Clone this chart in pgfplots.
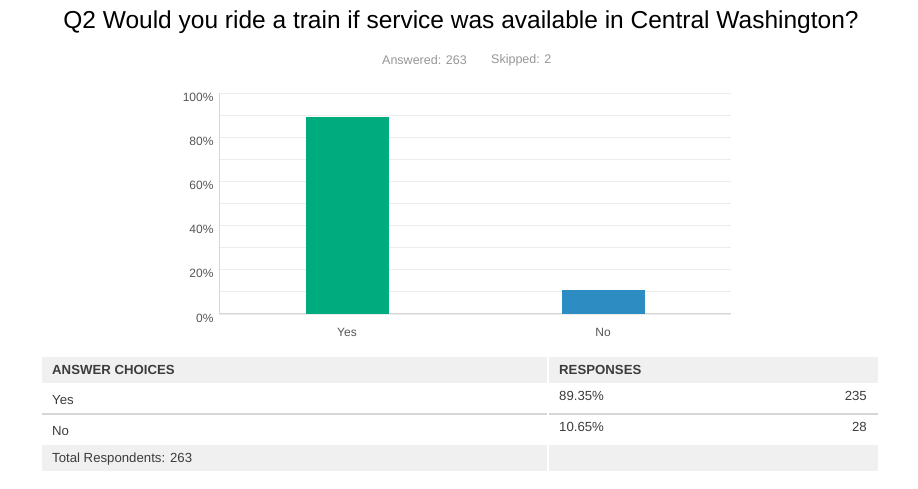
\documentclass[border=0pt]{standalone}
\usepackage{pgfplots}
\pgfplotsset{compat=1.18}
\usepackage{fontspec}
\setmainfont{Liberation Sans}
\definecolor{yesgreen}{RGB}{0,172,126}
\definecolor{noblue}{RGB}{45,141,194}
\definecolor{gridgrey}{RGB}{236,236,236}
\definecolor{axisgrey}{RGB}{214,214,214}
\definecolor{ticktext}{RGB}{85,85,85}
\definecolor{subgrey}{RGB}{150,150,150}
\definecolor{tablebg}{RGB}{240,240,240}
\definecolor{tabletext}{RGB}{60,60,60}

\begin{document}
\begin{tikzpicture}[x=1pt,y=1pt]
\useasboundingbox (0,0) rectangle (918,489);

% title and subtitle
\node[font=\fontsize{24.5}{28}\selectfont, text=black] at (461,467) {Q2 Would you ride a train if service was available in Central Washington?};
\node[font=\fontsize{12.5}{15}\selectfont, text=subgrey, anchor=west, inner sep=0] at (382,429) {Answered: 263};
\node[font=\fontsize{12.5}{15}\selectfont, text=subgrey, anchor=west, inner sep=0] at (491,429) {Skipped: 2};

\begin{axis}[
    at={(219pt,175pt)},
    anchor=south west,
    scale only axis,
    width=512pt,
    height=221pt,
    ybar,
    bar width=83pt,
    xmin=-0.5, xmax=1.5,
    ymin=0, ymax=100,
    xtick={0,1},
    xticklabels={Yes, No},
    ytick={0,20,...,100},
    minor ytick={10,30,...,90},
    yticklabel={\pgfmathprintnumber{\tick}\%},
    /pgf/number format/assume math mode=true,
    ticklabel style={font=\fontsize{12}{14}\selectfont, text=ticktext},
    xticklabel style={yshift=-11pt},
    yticklabel style={xshift=-2pt, yshift=-4pt},
    major tick length=0pt,
    minor tick length=0pt,
    ymajorgrids, yminorgrids,
    major grid style={gridgrey, line width=0.8pt},
    minor grid style={gridgrey, line width=0.8pt},
    axis x line*=bottom,
    axis y line*=left,
    axis line style={axisgrey, line width=1pt, -},
    clip=false,
]
\addplot[fill=yesgreen, draw=none, bar shift=0pt] coordinates {(0,89.35)};
\addplot[fill=noblue, draw=none, bar shift=0pt] coordinates {(1,10.65)};
\end{axis}

% table
\fill[tablebg] (42,106) rectangle (547,132);
\fill[tablebg] (549,106) rectangle (878,132);
\draw[axisgrey, line width=1.5pt] (42,75) -- (547,75);
\draw[axisgrey, line width=1.5pt] (549,75) -- (878,75);
\fill[tablebg] (42,18) rectangle (547,44);
\fill[tablebg] (549,18) rectangle (878,44);

\begin{scope}[every node/.style={font=\fontsize{13.2}{16}\selectfont, text=tabletext, inner sep=0}]
\node[anchor=west, font=\bfseries\fontsize{13.2}{16}\selectfont] at (52,119) {ANSWER CHOICES};
\node[anchor=west, font=\bfseries\fontsize{13.2}{16}\selectfont] at (559,119) {RESPONSES};
\node[anchor=west] at (52,89) {Yes};
\node[anchor=west] at (559,93) {89.35\%};
\node[anchor=east] at (867,93) {235};
\node[anchor=west] at (52,58) {No};
\node[anchor=west] at (559,62) {10.65\%};
\node[anchor=east] at (867,62) {28};
\node[anchor=west] at (52,30) {Total Respondents: 263};
\end{scope}
\end{tikzpicture}
\end{document}
